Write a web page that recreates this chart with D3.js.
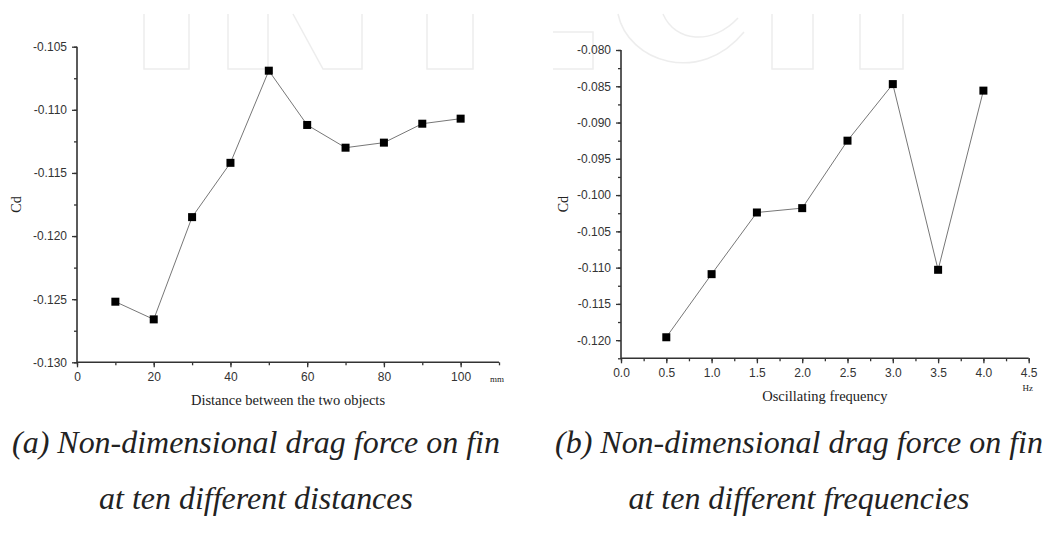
<!DOCTYPE html>
<html>
<head>
<meta charset="utf-8">
<script src="https://cdn.jsdelivr.net/npm/d3@7"></script>
<style>
  body { margin: 0; background: #fff; }
  svg { display: block; }
  .tick text { font-family: Arial, "Liberation Sans", sans-serif; font-size: 12px; fill: #333; }
  .serif { font-family: "Liberation Serif", "Times New Roman", serif; fill: #222; }
</style>
</head>
<body>
<div id="fig"></div>
<script>
'use strict';

// panel (a): distance between the two objects (mm)
var distances = [10, 20, 30, 40, 50, 60, 70, 80, 90, 100];
var cdDistance = [-0.1252, -0.1266, -0.1185, -0.1142, -0.1069, -0.1112, -0.1130, -0.1126, -0.1111, -0.1107];
var distTicks = [0, 20, 40, 60, 80, 100];
var cdTicksA = [-0.130, -0.125, -0.120, -0.115, -0.110, -0.105];

// panel (b): oscillating frequency (Hz)
var freqs = [0.5, 1.0, 1.5, 2.0, 2.5, 3.0, 3.5, 4.0];
var cdFreq = [-0.1196, -0.1109, -0.1024, -0.1018, -0.0925, -0.0847, -0.1103, -0.0856];
var freqTicks = [0, 0.5, 1, 1.5, 2, 2.5, 3, 3.5, 4, 4.5];
var cdTicksB = [-0.120, -0.115, -0.110, -0.105, -0.100, -0.095, -0.090, -0.085, -0.080];

var captionA = ['(a) Non-dimensional drag force on fin', 'at ten different distances'];
var captionB = ['(b) Non-dimensional drag force on fin', 'at ten different frequencies'];

var W = 1049, H = 538;
var svg = d3.select('#fig').append('svg').attr('width', W).attr('height', H);

// plain hyphen minus like the original plots
var fmt3 = function (d) { return d3.format('.3f')(d).replace('\u2212', '-'); };

// faint publisher watermark (bottoms of big outlined letters)
var watermark = [
    'M144,14V69H189V14',
    'M228,14V69H268V14',
    'M293,14L323,69H362V14',
    'M427,14V69H473V14',
    'M553,32H593V69H553',
    'M618,14C628,62 700,86 744,32',
    'M663,14C675,42 712,46 738,18',
    'M772,14V69H813V14',
    'M860,14V69H903V14'
];
svg.append('g').selectAll('path')
    .data(watermark)
    .enter().append('path')
    .attr('d', function (d) { return d; })
    .attr('fill', 'none')
    .attr('stroke', '#ededed')
    .attr('stroke-width', 1.5);

function panel(opt) {
    var g = svg.append('g');
    var x = d3.scaleLinear().domain(opt.xDomain).range([opt.left, opt.right]);
    var y = d3.scaleLinear().domain(opt.yDomain).range([opt.bottom, opt.top]);

    var xMinor = d3.range(opt.xDomain[0], opt.xDomain[1] + opt.xStep / 2, opt.xStep);
    var yMinor = d3.range(opt.yDomain[0], opt.yDomain[1] + opt.yStep / 2, opt.yStep);

    function styleTicks(a) {
        a.select('.domain').remove();
        a.selectAll('line').attr('stroke', '#333').attr('stroke-width', 1.3);
    }

    // minor ticks
    g.append('g')
        .attr('transform', 'translate(0,' + opt.bottom + ')')
        .call(d3.axisBottom(x).tickValues(xMinor).tickSize(3).tickFormat(''))
        .call(styleTicks);
    g.append('g')
        .attr('transform', 'translate(' + opt.left + ',0)')
        .call(d3.axisLeft(y).tickValues(yMinor).tickSize(3).tickFormat(''))
        .call(styleTicks);

    // major ticks with labels
    g.append('g')
        .attr('transform', 'translate(0,' + opt.bottom + ')')
        .call(d3.axisBottom(x).tickValues(opt.xTicks).tickSize(5).tickPadding(5).tickFormat(opt.xFormat))
        .call(styleTicks);
    g.append('g')
        .attr('transform', 'translate(' + opt.left + ',0)')
        .call(d3.axisLeft(y).tickValues(opt.yTicks).tickSize(5).tickPadding(5).tickFormat(fmt3))
        .call(styleTicks);

    // axis lines
    g.append('path')
        .attr('d', 'M' + opt.left + ',' + opt.top + 'V' + opt.bottom + 'H' + opt.right)
        .attr('fill', 'none')
        .attr('stroke', '#333')
        .attr('stroke-width', 1.6);

    // data line and square markers
    var pts = opt.xs.map(function (d, i) { return [d, opt.ys[i]]; });
    g.append('path')
        .datum(pts)
        .attr('fill', 'none')
        .attr('stroke', '#777')
        .attr('stroke-width', 1)
        .attr('d', d3.line().x(function (d) { return x(d[0]); }).y(function (d) { return y(d[1]); }));
    g.selectAll('rect.pt')
        .data(pts)
        .enter().append('rect')
        .attr('class', 'pt')
        .attr('x', function (d) { return x(d[0]) - 4; })
        .attr('y', function (d) { return y(d[1]) - 4; })
        .attr('width', 8).attr('height', 8)
        .attr('fill', '#000');

    // axis titles
    g.append('text').attr('class', 'serif')
        .attr('x', (opt.left + opt.right) / 2).attr('y', opt.bottom + 43)
        .attr('text-anchor', 'middle').attr('font-size', 14.5)
        .text(opt.xLabel);
    g.append('text').attr('class', 'serif')
        .attr('x', opt.right + opt.unitShift).attr('y', opt.bottom + opt.unitDy)
        .attr('text-anchor', 'middle').attr('font-size', 9)
        .text(opt.unit);
    g.append('text').attr('class', 'serif')
        .attr('transform', 'translate(' + opt.yLabelX + ',' + ((opt.top + opt.bottom) / 2) + ') rotate(-90)')
        .attr('text-anchor', 'middle').attr('font-size', 14)
        .text('Cd');

    // caption under the panel, sized so the first line is as wide as in the original
    var caps = opt.caption.map(function (line, i) {
        return svg.append('text').attr('class', 'serif')
            .attr('x', opt.capX).attr('y', 453 + i * 56)
            .attr('text-anchor', 'middle')
            .attr('font-size', 29)
            .attr('font-style', 'italic')
            .attr('fill', '#111')
            .text(line);
    });
    var size = 29 * opt.capWidth / caps[0].node().getComputedTextLength();
    caps.forEach(function (t) { t.attr('font-size', size); });
}

panel({
    xs: distances, ys: cdDistance,
    xDomain: [0, 110], yDomain: [-0.130, -0.105],
    xStep: 10, yStep: 0.0025,
    xTicks: distTicks, yTicks: cdTicksA,
    xFormat: d3.format('d'),
    left: 77, right: 499, top: 46.7, bottom: 362.3,
    xLabel: 'Distance between the two objects',
    unit: 'mm', unitShift: -2, unitDy: 20,
    yLabelX: 21,
    caption: captionA, capX: 256, capWidth: 488
});

panel({
    xs: freqs, ys: cdFreq,
    xDomain: [0, 4.5], yDomain: [-0.1225, -0.080],
    xStep: 0.25, yStep: 0.0025,
    xTicks: freqTicks, yTicks: cdTicksB,
    xFormat: d3.format('.1f'),
    left: 621, right: 1028.7, top: 50, bottom: 358.3,
    xLabel: 'Oscillating frequency',
    unit: 'Hz', unitShift: -1, unitDy: 33,
    yLabelX: 568,
    caption: captionB, capX: 799, capWidth: 488
});
</script>
</body>
</html>
